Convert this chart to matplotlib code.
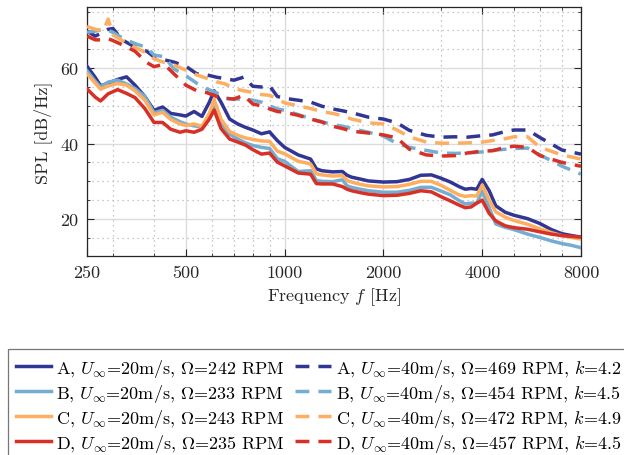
import matplotlib
matplotlib.use("Agg")
import matplotlib.pyplot as plt
from matplotlib.ticker import FixedLocator, FixedFormatter, MultipleLocator

plt.rcParams["font.family"] = "serif"
plt.rcParams["font.serif"] = ["cmr10"]
plt.rcParams["mathtext.fontset"] = "cm"
plt.rcParams["axes.unicode_minus"] = False

# frequency grid of the 20 m/s (solid) curves
freq_20 = [250, 265, 275, 290, 310, 330, 350, 375, 400, 425, 450, 480, 500, 530,
           560, 590, 610, 640, 680, 720, 760, 800, 850, 900, 950, 1000, 1100,
           1200, 1250, 1300, 1400, 1500, 1550, 1600, 1700, 1800, 2000, 2200,
           2400, 2600, 2800, 3000, 3200, 3400, 3550, 3700, 3850, 4000, 4200,
           4400, 4700, 5000, 5500, 6000, 6500, 7000, 7500, 8000]

spl_A20 = [60.5, 57.5, 55.3, 56.0, 57.0, 57.7, 55.5, 52.5, 48.8, 49.7, 48.0, 47.6,
           47.3, 48.5, 47.2, 51.0, 54.0, 51.0, 46.5, 45.2, 44.3, 43.6, 42.6, 43.1,
           40.8, 39.0, 37.0, 35.9, 33.3, 32.8, 32.5, 32.6, 31.6, 31.1, 30.6, 30.1,
           29.8, 29.9, 30.5, 31.6, 31.7, 30.8, 29.8, 28.6, 27.9, 28.1, 27.9, 30.5,
           27.5, 23.5, 21.8, 21.0, 20.1, 18.8, 17.2, 16.1, 15.6, 15.2]
spl_B20 = [59.3, 56.5, 55.0, 56.3, 56.8, 55.8, 54.6, 52.5, 48.2, 48.8, 47.0, 45.8,
           45.2, 44.7, 44.4, 47.0, 49.7, 45.5, 42.5, 41.2, 40.2, 39.5, 39.0, 38.7,
           36.0, 35.3, 32.6, 32.8, 30.2, 30.0, 29.9, 30.4, 28.8, 28.4, 27.9, 27.5,
           27.1, 27.1, 27.6, 28.4, 28.4, 27.4, 26.4, 24.9, 24.0, 24.2, 24.2, 27.4,
           23.0, 18.7, 17.8, 17.2, 16.0, 15.1, 14.2, 13.5, 13.0, 12.4]
spl_C20 = [58.5, 56.0, 54.4, 55.3, 55.9, 55.5, 54.0, 51.5, 47.6, 48.3, 46.4, 45.2,
           44.8, 45.2, 44.6, 48.0, 51.7, 46.5, 43.2, 42.2, 41.5, 41.1, 40.7, 40.6,
           38.0, 37.3, 35.3, 34.6, 32.0, 31.7, 31.4, 31.5, 30.2, 29.8, 29.2, 28.8,
           28.5, 28.6, 29.2, 30.0, 30.0, 28.9, 27.6, 26.4, 26.0, 26.2, 26.1, 29.0,
           25.0, 21.9, 20.5, 19.6, 18.6, 17.4, 16.4, 15.6, 15.1, 14.7]
spl_D20 = [54.5, 52.3, 51.3, 53.2, 54.3, 53.3, 52.2, 49.3, 45.6, 45.6, 43.8, 43.0,
           43.4, 43.0, 43.8, 46.5, 48.9, 44.0, 41.2, 40.4, 39.6, 38.4, 37.2, 37.5,
           35.1, 34.1, 32.2, 31.9, 29.4, 29.3, 29.3, 28.6, 27.9, 27.5, 27.0, 26.6,
           26.2, 26.3, 26.8, 27.5, 27.2, 25.9, 24.8, 23.7, 23.0, 23.2, 24.2, 25.0,
           21.5, 19.5, 18.2, 17.7, 17.3, 16.6, 16.0, 15.6, 15.4, 15.2]

# frequency grid of the 40 m/s (dashed) curves
freq_40 = [250, 265, 280, 290, 300, 320, 350, 380, 400, 430, 460, 500, 540, 580,
           620, 660, 700, 750, 800, 850, 900, 950, 1000, 1100, 1200, 1300, 1400,
           1500, 1600, 1800, 2000, 2200, 2400, 2700, 3000, 3300, 3600, 4000, 4300,
           4700, 5000, 5500, 6000, 7000, 8000]

spl_A40 = [69.8, 68.5, 69.5, 70.3, 70.5, 67.5, 65.6, 64.5, 63.0, 62.2, 61.6, 60.5,
           58.5, 58.2, 57.6, 57.2, 56.8, 57.6, 55.2, 55.0, 55.3, 52.5, 52.0, 51.5,
           51.0, 49.9, 49.2, 48.7, 48.2, 47.0, 46.5, 45.5, 43.5, 42.2, 41.7, 41.8,
           41.7, 42.1, 42.3, 43.2, 43.6, 43.6, 41.6, 38.3, 37.2]
spl_B40 = [69.5, 69.8, 70.3, 70.0, 69.5, 68.0, 66.5, 65.5, 63.5, 63.0, 59.8, 58.0,
           56.0, 54.5, 53.5, 52.0, 51.8, 51.8, 51.5, 51.0, 50.0, 49.2, 48.8, 47.7,
           46.6, 45.8, 45.0, 44.6, 44.0, 43.0, 42.0, 40.0, 39.0, 38.2, 37.5, 37.4,
           37.5, 37.8, 38.2, 38.5, 38.7, 38.8, 37.0, 34.0, 31.9]
spl_C40 = [71.0, 70.3, 69.8, 73.0, 68.8, 67.3, 65.5, 64.0, 62.5, 61.5, 60.8, 59.5,
           58.2, 57.3, 56.4, 55.8, 54.6, 54.0, 53.6, 53.0, 52.8, 51.8, 50.8, 50.0,
           49.3, 48.5, 48.0, 47.4, 46.5, 45.5, 45.2, 43.6, 41.8, 40.4, 40.1, 40.1,
           40.2, 40.4, 40.8, 41.3, 41.8, 41.8, 39.0, 37.0, 35.9]
spl_D40 = [68.5, 67.5, 67.5, 67.8, 67.3, 66.2, 64.5, 61.5, 60.4, 61.0, 58.5, 55.5,
           54.0, 53.5, 52.5, 52.0, 51.8, 52.8, 50.5, 50.0, 49.2, 48.5, 48.3, 47.5,
           46.5, 45.7, 44.6, 44.0, 43.3, 42.8, 42.3, 41.5, 38.5, 37.0, 36.7, 36.8,
           37.5, 38.0, 38.1, 39.0, 39.3, 39.0, 36.8, 35.0, 34.0]

colours = ["#313695", "#74add1", "#fdae61", "#d73027"]
labels_20 = [
    r"A, $U_\infty$=20m/s, $\Omega$=242 RPM",
    r"B, $U_\infty$=20m/s, $\Omega$=233 RPM",
    r"C, $U_\infty$=20m/s, $\Omega$=243 RPM",
    r"D, $U_\infty$=20m/s, $\Omega$=235 RPM",
]
labels_40 = [
    r"A, $U_\infty$=40m/s, $\Omega$=469 RPM, $k$=4.2",
    r"B, $U_\infty$=40m/s, $\Omega$=454 RPM, $k$=4.5",
    r"C, $U_\infty$=40m/s, $\Omega$=472 RPM, $k$=4.9",
    r"D, $U_\infty$=40m/s, $\Omega$=457 RPM, $k$=4.5",
]
x_ticks = [250, 500, 1000, 2000, 4000, 8000]
x_minor = [300, 400, 600, 700, 800, 900, 3000, 5000, 6000, 7000]


def main() -> None:
    fig = plt.figure(figsize=(6.24, 4.56), dpi=100)
    ax = fig.add_axes([0.1394, 0.4364, 0.7917, 0.546])

    solids = [spl_A20, spl_B20, spl_C20, spl_D20]
    dashed = [spl_A40, spl_B40, spl_C40, spl_D40]
    handles_20 = []
    handles_40 = []
    for vals, col, lab in zip(solids, colours, labels_20):
        (h,) = ax.plot(freq_20, vals, color=col, lw=2.5, label=lab,
                       solid_joinstyle="round", zorder=3)
        handles_20.append(h)
    for vals, col, lab in zip(dashed, colours, labels_40):
        (h,) = ax.plot(freq_40, vals, color=col, lw=2.5, ls=(0, (4, 2.6)),
                       label=lab, zorder=3)
        handles_40.append(h)

    ax.set_xscale("log")
    ax.set_xlim(250, 8000)
    ax.set_ylim(10.2, 76.2)
    ax.xaxis.set_major_locator(FixedLocator(x_ticks))
    ax.xaxis.set_major_formatter(FixedFormatter([str(t) for t in x_ticks]))
    ax.xaxis.set_minor_locator(FixedLocator(x_minor))
    ax.xaxis.set_minor_formatter(FixedFormatter([""] * len(x_minor)))
    ax.yaxis.set_major_locator(MultipleLocator(20))
    ax.yaxis.set_minor_locator(MultipleLocator(5))

    ax.grid(which="major", color="#dcdcdc", lw=1.0, ls="-")
    ax.grid(which="minor", color="#b5b5b5", lw=0.9, ls=(0, (1, 3)))
    ax.set_axisbelow(True)
    ax.tick_params(which="both", direction="in", top=True, right=True,
                   labelsize=13, colors="#262626", pad=6)
    ax.tick_params(which="major", length=5, width=0.8)
    ax.tick_params(which="minor", length=2.5, width=0.6)
    for sp in ax.spines.values():
        sp.set_color("#262626")
        sp.set_linewidth(0.9)

    ax.set_xlabel(r"Frequency $f$ [Hz]", fontsize=13, color="#262626", labelpad=4)
    ax.set_ylabel("SPL [dB/Hz]", fontsize=13, color="#262626", labelpad=6)

    leg = fig.legend(handles_20 + handles_40, labels_20 + labels_40, ncol=2,
                     loc="upper left", bbox_to_anchor=(0.0128, 0.2325),
                     borderaxespad=0, fontsize=13, frameon=True, fancybox=False,
                     handlelength=1.95, handletextpad=0.28, columnspacing=0.6,
                     labelspacing=0.17, borderpad=0.42)
    leg.get_frame().set_edgecolor("#555555")
    leg.get_frame().set_linewidth(0.9)

    fig.savefig("out.png", dpi=100)
    plt.close(fig)


if __name__ == "__main__":
    main()
